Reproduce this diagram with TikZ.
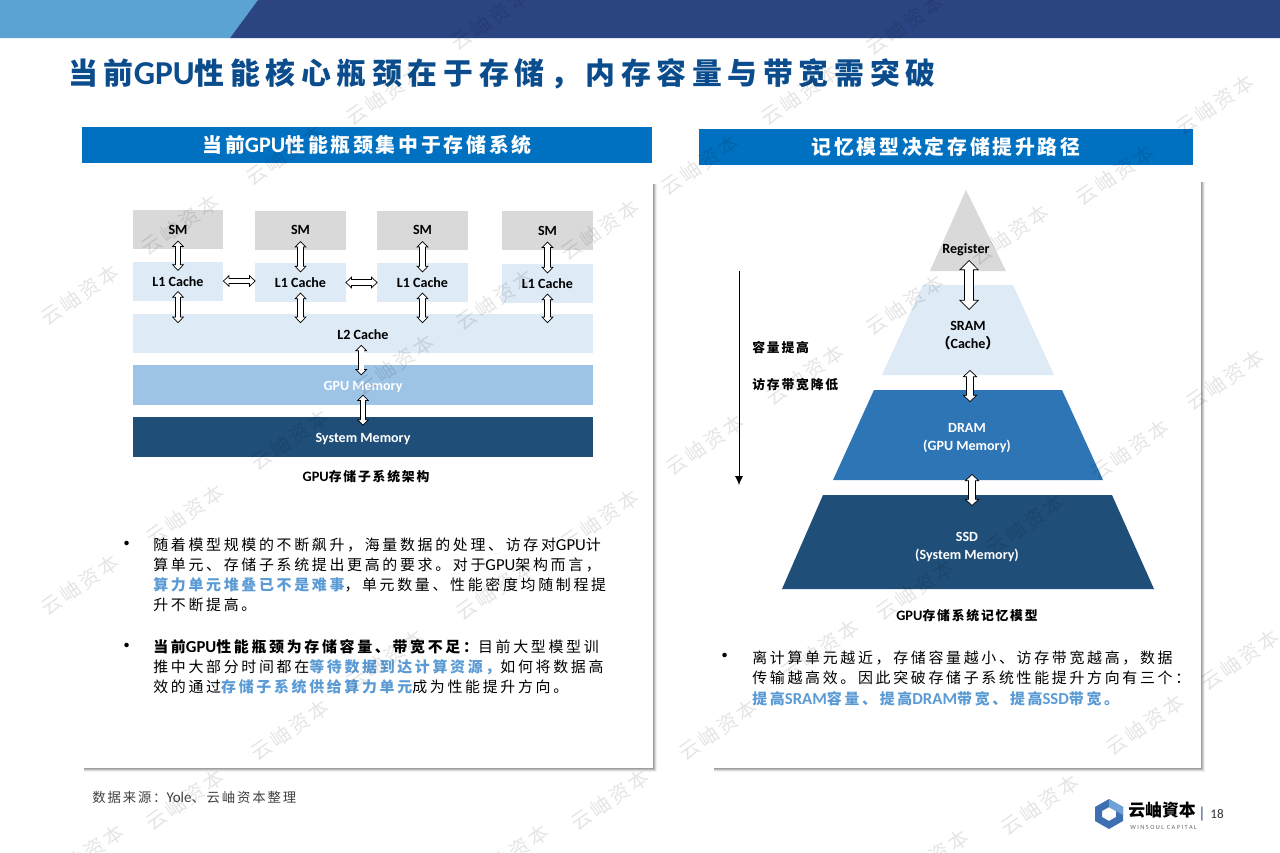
\documentclass[tikz,border=0pt]{standalone}
\usepackage{fontspec}
\usepackage{tikz}
\usetikzlibrary{arrows.meta}
\setmainfont{Noto Sans CJK SC}
\newfontfamily\latfont[Scale=1.12]{Carlito}
\newfontfamily\labelfont{Carlito}
\newfontfamily\titlefont[LetterSpace=19]{Noto Sans CJK SC}
\newfontfamily\barfont[LetterSpace=14]{Noto Sans CJK SC}
\newfontfamily\bodyfont[LetterSpace=18]{Noto Sans CJK SC}
\newfontfamily\capfont[LetterSpace=14]{Noto Sans CJK SC}
\newcommand{\lat}[1]{{\latfont #1}}
\newcommand{\hot}[1]{{\bfseries\color{hotblue}#1}}
\newcommand{\jleft}[1]{\makebox[9.06cm][s]{#1}}
\newcommand{\jright}[1]{\makebox[8.28cm][s]{#1}}
\XeTeXlinebreaklocale "zh"
\XeTeXlinebreakskip=0pt plus 2pt
\definecolor{hotblue}{HTML}{5B9BD5}
\definecolor{barblue}{HTML}{0070C0}
\definecolor{titleblue}{HTML}{0B4C8C}
\definecolor{smgray}{HTML}{D9D9D9}
\definecolor{cachefill}{HTML}{DEEAF6}
\definecolor{gpufill}{HTML}{9DC3E6}
\definecolor{sysfill}{HTML}{1F4E79}
\definecolor{dramfill}{HTML}{2E75B6}
\tikzset{
  every node/.style={inner sep=0pt},
  box/.style={minimum width=1.82cm, minimum height=0.78cm},
  smbox/.style={box, fill=smgray},
  cachebox/.style={box, fill=cachefill},
  widebox/.style={box, minimum width=9.2cm, minimum height=0.79cm},
  boxlabel/.style={font=\labelfont\bfseries\fontsize{8}{9}\selectfont},
  barbox/.style={fill=barblue, minimum height=0.72cm, text=white, font=\barfont\bfseries\fontsize{11.3}{13}\selectfont},
  pyrlabel/.style={font=\labelfont\bfseries\fontsize{8}{10}\selectfont, align=center},
  capt/.style={font=\capfont\bfseries\fontsize{7.3}{9}\selectfont},
  bodytext/.style={anchor=north west, align=left, font=\bodyfont\fontsize{8.5}{11.34}\selectfont},
  dotmark/.style={font=\fontsize{12}{12}\selectfont},
  wmark/.style={rotate=35, text=black, text opacity=.1, font=\barfont\fontsize{11.5}{13}\selectfont},
  blockarrow/.style n args={3}{line width=#1pt, draw=black,
    {Triangle[length=#3pt, width=#2pt, fill=white, line width=.4pt]}-{Triangle[length=#3pt, width=#2pt, fill=white, line width=.4pt]},
    postaction={draw=white, line width=#1pt-.8pt, arrows={-}, shorten >=.7*#3pt, shorten <=.7*#3pt}},
}
\begin{document}
\begin{tikzpicture}[x=0.02cm, y=-0.02cm]
\useasboundingbox (0,0) rectangle (1280,852);
\clip (0,0) rectangle (1280,852);
\fill[white] (0,0) rectangle (1280,852);

%% header
\fill[fill={rgb,255:red,91;green,163;blue,211}] (0,0) -- (258,0) -- (230,38) -- (0,38) -- cycle;
\fill[fill={rgb,255:red,43;green,68;blue,130}] (258,0) -- (1280,0) -- (1280,38) -- (230,38) -- cycle;
\node[anchor=west, text=titleblue, font=\titlefont\bfseries\fontsize{17}{20}\selectfont] (title) at (68,74)
  {当前\lat{GPU}性能核心瓶颈在于存储，内存容量与带宽需突破};

%% panels
\foreach \o/\c in {4/6,3/14,2/28,1/38}{
  \fill[black!\c!white] (84,184) rectangle (653+\o,768+\o);
  \fill[black!\c!white] (714,182) rectangle (1201+\o,768+\o);
}
\fill[white] (82,182) rectangle (653,768);
\fill[white] (712,180) rectangle (1201,768);
\node[barbox, minimum width=11.4cm] (barL) at (367,145) {\raisebox{-.5pt}{当前\lat{GPU}性能瓶颈集中于存储系统}};
\node[barbox, minimum width=9.88cm] (barR) at (946,147) {记忆模型决定存储提升路径};

%% left diagram
\node[smbox] (sma) at (178,229.5) {};
\node[smbox] (smb) at (300.5,230) {};
\node[smbox] (smc) at (422.5,230) {};
\node[smbox] (smd) at (547.5,230.5) {};
\node[cachebox] (la) at (178,281) {};
\node[cachebox] (lb) at (300.5,282.5) {};
\node[cachebox] (lc) at (422.5,282.5) {};
\node[cachebox] (ld) at (547.5,283.5) {};
\node[widebox, fill=cachefill] (ltwo) at (363,333.5) {};
\node[widebox, fill=gpufill] (gpu) at (363,385) {};
\node[widebox, fill=sysfill] (sys) at (363,437) {};

%% labels
\foreach \n/\t/\s in {sma/SM/0,smb/SM/0,smc/SM/0,smd/SM/0,la/L1 Cache/-.3,lb/L1 Cache/-.3,lc/L1 Cache/-.3,ld/L1 Cache/-.3}{
  \node[boxlabel] (\n text) at ([yshift=\s pt]\n) {\t};
}
\node[boxlabel] (ltwotext) at ([yshift=-.6pt]ltwo) {L2 Cache};
\node[boxlabel, text=white] (gputext) at ([yshift=-.9pt]gpu) {GPU Memory};
\node[boxlabel, text=white] (systext) at ([yshift=-.9pt]sys) {System Memory};

%% arrows
\foreach \a/\b in {sma/la,smb/lb,smc/lc,smd/ld}{
  \draw[blockarrow={3.6}{7}{3.6}] ([yshift=5pt]\a.south) -- ([yshift=-5.5pt]\b.north);
}
\foreach \a in {la,lb,lc,ld}{
  \draw[blockarrow={3.6}{7}{3.6}] ([yshift=5.5pt]\a.south) -- ([yshift=-5.5pt]\a.south |- ltwo.north);
}
\draw[blockarrow={3.6}{7}{3.6}] ([xshift=-1pt,yshift=5pt]ltwo.south) -- ([xshift=-1pt,yshift=-6pt]gpu.north);
\draw[blockarrow={3.6}{7}{3.6}] ([yshift=6pt]gpu.south) -- ([yshift=-5pt]sys.north);
\draw[blockarrow={3.6}{7}{3.6}] ([xshift=-.5pt]la.east) -- ([xshift=.5pt]lb.west |- la.east);
\draw[blockarrow={3.6}{7}{3.6}] ([xshift=-.5pt]lb.east) -- ([xshift=.5pt]lc.west);
\node[capt] (captL) at (366,477) {\lat{GPU}存储子系统架构};

%% left text
\node[dotmark] (dota) at (127,546) {•};
\node[bodytext] (paraa) at (153,538) {\jleft{随着模型规模的不断飙升，海量数据的处理、访存对\lat{GPU}计}\\
  \jleft{算单元、存储子系统提出更高的要求。对于\lat{GPU}架构而言，}\\
  \jleft{\hot{算力单元堆叠已不是难事}，单元数量、性能密度均随制程提}\\
  升不断提高。};
\node[dotmark] (dotb) at (127,648) {•};
\node[bodytext] (parab) at (153,639) {\jleft{{\bfseries 当前\lat{GPU}性能瓶颈为存储容量、带宽不足：}目前大型模型训}\\
  \jleft{推中大部分时间都在\hot{等待数据到达计算资源，}如何将数据高}\\
  效的通过\hot{存储子系统供给算力单元}成为性能提升方向。};
\node[anchor=west, text=black!75, font=\capfont\fontsize{7.6}{9}\selectfont] (source) at (92,797) {数据来源：\lat{Yole}、云岫资本整理};

%% pyramid
\fill[smgray] (966,190) -- (1006,271) -- (930,271) -- cycle;
\fill[cachefill] (923,285) -- (1013,285) -- (1054,375) -- (882,375) -- cycle;
\fill[dramfill] (874,390) -- (1062,390) -- (1103,480) -- (833,480) -- cycle;
\fill[sysfill] (823,495) -- (1112,495) -- (1154,589) -- (782,589) -- cycle;
\coordinate (regb) at (969,260);
\coordinate (srat) at (969,310);
\coordinate (srab) at (970,370);
\coordinate (drat) at (970,402);
\coordinate (drab) at (972,474);
\coordinate (ssdt) at (972,506);
\draw[blockarrow={5.7}{11.3}{5.7}] (regb) -- (srat);
\draw[blockarrow={4.7}{8.5}{4}] (srab) -- (drat);
\draw[blockarrow={4.7}{8.5}{4}] (drab) -- (ssdt);
\node[pyrlabel] (reg) at (966,250) {Register};
\node[pyrlabel] (sra) at (968,336) {SRAM\\[.3pt]{\rmfamily （}Cache{\rmfamily ）}};
\node[pyrlabel, text=white] (dra) at (967,438) {DRAM\\[.3pt](GPU Memory)};
\node[pyrlabel, text=white] (ssd) at (967,547) {SSD\\[.3pt](System Memory)};
\node[capt] (captR) at (967,616) {\lat{GPU}存储系统记忆模型};

%% side arrow
\coordinate (sidea) at (739,271);
\coordinate (sideb) at (739,485);
\draw[-{Latex[length=5pt,width=4.5pt]}, line width=.55pt] (sidea) -- (sideb);
\node[anchor=west, capt] (capa) at (752,348) {容量提高};
\node[anchor=west, capt] (capb) at (752,385) {访存带宽降低};

%% right text
\node[dotmark] (dotc) at (725,658) {•};
\node[bodytext] (parac) at (752,650) {\jright{离计算单元越近，存储容量越小、访存带宽越高，数据}\\[.5pt]
  \jright{传输越高效。因此突破存储子系统性能提升方向有三个：}\\[.5pt]
  \hot{提高\lat{SRAM}容量、提高\lat{DRAM}带宽、提高\lat{SSD}带宽。}};

%% logo
\fill[fill={rgb,255:red,62;green,111;blue,176}, even odd rule] (1109,799) -- (1123,807) -- (1123,821) -- (1109,829) -- (1095,821) -- (1095,807) -- cycle
  (1109,807) -- (1116,811) -- (1116,817) -- (1109,821) -- (1102,817) -- (1102,811) -- cycle;
\fill[fill={rgb,255:red,111;green,163;blue,216}] (1109,799) -- (1123,807) -- (1123,815) -- (1116,811) -- (1109,807) -- cycle;
\node[anchor=west, font=\bfseries\fontsize{9.6}{11}\selectfont] (logoname) at (1128,810) {云岫資本};
\node[anchor=west, text=black!60, font=\labelfont\fontsize{3.6}{4}\selectfont] (logosub) at (1130,827) {W I N S O U L\ \ C A P I T A L};
\node[text={rgb,255:red,43;green,68;blue,130}, font=\labelfont\fontsize{9}{10}\selectfont] (logobar) at (1202,814) {|};
\node[text=black!80, font=\labelfont\fontsize{7.5}{9}\selectfont] (pageno) at (1217,814) {18};

%% watermark
\foreach \x/\y [count=\n] in {490/20,905/25,385/95,800/95,1215/105,285/155,700/165,1115/175,
  180/225,600/230,1010/235,80/295,495/300,905/305,395/365,805/375,1225/380,
  290/440,705/445,1130/450,185/515,600/520,1025/525,80/585,495/590,915/590,
  385/660,820/650,1240/660,290/730,718/730,1145/725,185/800,610/800,1040/805,
  85/855,510/855,930/860}{
  \node[wmark] (wm\n) at (\x,\y) {云岫资本};
}
\end{tikzpicture}
\end{document}
